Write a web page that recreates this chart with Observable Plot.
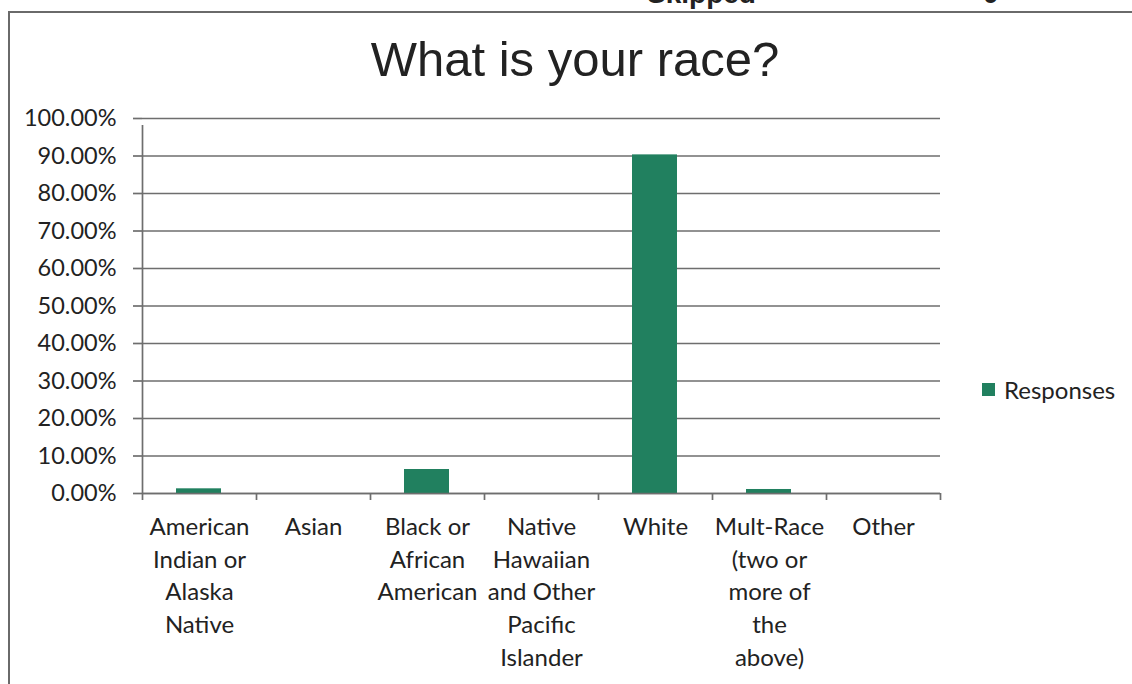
<!DOCTYPE html>
<html>
<head>
<meta charset="utf-8">
<script src="https://cdn.jsdelivr.net/npm/d3@7"></script>
<script src="https://cdn.jsdelivr.net/npm/@observablehq/plot@0.6"></script>
<style>
  html, body { margin: 0; padding: 0; background: #fff; overflow: hidden; }
  #page { position: relative; width: 1132px; height: 684px; overflow: hidden; }
  #frame { position: absolute; left: 8px; top: 11px; width: 1140px; height: 700px;
           border-left: 2px solid #6a6a6a; border-top: 2px solid #6a6a6a; box-sizing: border-box; }
  #skipped { position: absolute; top: -20px; left: 647px; font: bold 28px "Liberation Sans", Arial, sans-serif; color: #222; line-height: 28px; }
  #skippedVal { position: absolute; top: -20px; left: 983px; font: bold 28px "Liberation Sans", Arial, sans-serif; color: #222; line-height: 28px; }
  #title { position: absolute; left: 0; width: 1150px; top: 35px; text-align: center;
           font: 49px "Liberation Sans", Arial, sans-serif; line-height: 49px; color: #222; }
  #chart { position: absolute; left: 0; top: 100px; }
  #legend { position: absolute; left: 982px; top: 375px; font: 24px Lato, sans-serif; color: #222;
            display: flex; align-items: center; gap: 9px; }
  #legend .sw { width: 13px; height: 13px; background: #21805f; }
</style>
</head>
<body>
<div id="page">
  <div id="skipped">Skipped</div>
  <div id="skippedVal">0</div>
  <div id="frame"></div>
  <div id="title">What is your race?</div>
  <div id="chart"></div>
  <div id="legend"><div class="sw"></div><span>Responses</span></div>
</div>
<script>
// Data
const categories = [
  "American Indian or Alaska Native",
  "Asian",
  "Black or African American",
  "Native Hawaiian and Other Pacific Islander",
  "White",
  "Mult-Race (two or more of the above)",
  "Other"
];
const tickLabels = [
  "American\nIndian or\nAlaska\nNative",
  "Asian",
  "Black or\nAfrican\nAmerican",
  "Native\nHawaiian\nand Other\nPacific\nIslander",
  "White",
  "Mult-Race\n(two or\nmore of\nthe\nabove)",
  "Other"
];
const responses = [1.25, 0, 6.4, 0, 90.3, 1.07, 0];
const yTicks = [0, 10, 20, 30, 40, 50, 60, 70, 80, 90, 100];
const seriesName = "Responses";
const barColor = "#21805f";

const rows = categories.map((c, i) => ({category: c, label: tickLabels[i], value: responses[i], i}));
const boundaries = d3.range(categories.length + 1);

const font = "Lato, 'Open Sans', sans-serif";
const chart = Plot.plot({
  width: 960,
  height: 584,
  marginLeft: 142,
  marginRight: 20,
  marginTop: 18,
  marginBottom: 191,
  style: {fontFamily: font, color: "#222", background: "transparent"},
  x: {type: "linear", domain: [0, categories.length]},
  y: {domain: [0, 100]},
  marks: [
    Plot.gridY(yTicks, {stroke: "#6e6e6e", strokeOpacity: 1, strokeWidth: 1.7}),
    Plot.rectY(rows, {x1: "i", x2: d => d.i + 1, y: "value", fill: barColor, insetLeft: 34, insetRight: 35}),
    Plot.ruleY([0], {stroke: "#6e6e6e", strokeWidth: 1.7}),
    Plot.ruleX([0], {y1: 0, y2: 100, stroke: "#6e6e6e", strokeWidth: 1.7, insetBottom: -7}),
    Plot.axisY(yTicks, {tickSize: 9, tickPadding: 17, fontSize: 23.5, stroke: "#6e6e6e", strokeWidth: 1.7,
      tickFormat: d => d.toFixed(2) + "%", label: null}),
    Plot.axisX(boundaries, {tickSize: 7, tickFormat: () => "", stroke: "#6e6e6e", strokeWidth: 1.7, label: null}),
    Plot.text(rows, {x: d => d.i + 0.5, y: () => 0, text: "label", lineAnchor: "top", textAnchor: "middle",
      fontSize: 24, lineHeight: 1.365, dy: 18, fill: "#222"})
  ]
});
document.getElementById("chart").appendChild(chart);
</script>
</body>
</html>
